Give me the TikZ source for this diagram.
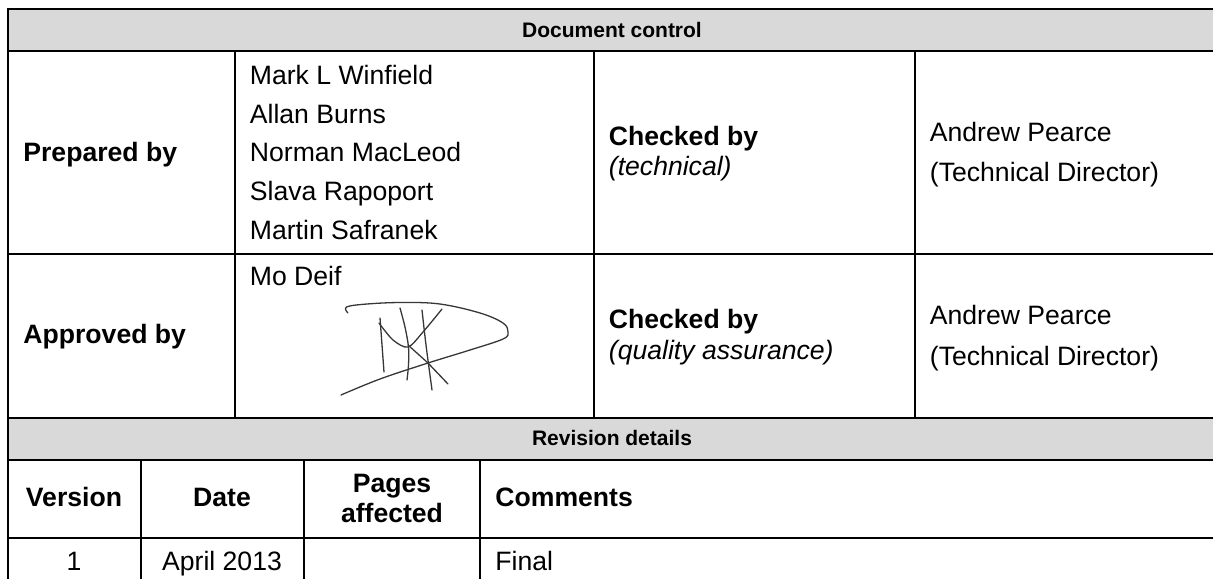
\documentclass[tikz,border=0pt]{standalone}
\usepackage{fontspec}
\setmainfont{Liberation Sans}
\usepackage{tikz}
\definecolor{headgray}{RGB}{217,217,217}
\definecolor{inkgray}{RGB}{55,55,55}
\def\gridwidth{0.9pt}
\def\bodyfont{\fontsize{13.3}{16}\selectfont}
\def\smallhead{\fontsize{10.5}{12}\selectfont\bfseries}
\tikzstyle{grid}=[line width=\gridwidth, draw=black]
\tikzstyle{headrow}=[fill=headgray, line width=\gridwidth, draw=black]
\tikzstyle{cell}=[anchor=base west, inner sep=0pt, font=\bodyfont]
\tikzstyle{boldcell}=[cell, font=\bodyfont\bfseries]
\tikzstyle{italcell}=[cell, font=\bodyfont\itshape]
\tikzstyle{midcell}=[cell, anchor=base]
\tikzstyle{boldmid}=[boldcell, anchor=base]
\tikzstyle{headtext}=[anchor=base, inner sep=0pt, font=\smallhead]
\tikzstyle{ink}=[line width=0.65pt, draw=inkgray, line cap=round, line join=round]

\begin{document}
\begin{tikzpicture}[x=0.5pt, y=-0.5pt]
\useasboundingbox (0,0) rectangle (1213,578);
\clip (0,0) rectangle (1213,578);
% shaded header bands
\draw [headrow] (7.7,8.7) rectangle (1220,51);
\draw [headrow] (7.7,418) rectangle (1220,460);
% rules
\draw [grid] (7.7,254) to (1220,254);
\draw [grid] (7.7,538) to (1220,538);
\draw [grid] (7.7,8.7) to (7.7,590);
\foreach \x in {235,594,915}
  \draw [grid] (\x,51) to (\x,418);
\foreach \x in {141,304,480}
  \draw [grid] (\x,460) to (\x,590);
% document control
\node [headtext] (doc) at (612,37) {Document control};
\node [boldcell] (prep) at (23,161.5) {Prepared by};
\foreach \name [count=\i] in {Mark L Winfield, Allan Burns, Norman MacLeod, Slava Rapoport, Martin Safranek}
  \node [cell] (n\i) at (249.5,{84.3+38.7*(\i-1)}) {\name};
\node [boldcell] (chk1) at (608.5,145.7) {Checked by};
\node [italcell] (tech) at (608.5,175) {(technical)};
\node [cell] (ap1) at (929.5,141) {Andrew Pearce};
\node [cell] (td1) at (929.5,181) {(Technical Director)};
\node [boldcell] (appr) at (23,343.3) {Approved by};
\node [cell] (mo) at (249.5,285) {Mo Deif};
\node [boldcell] (chk2) at (608.5,328.3) {Checked by};
\node [italcell] (qa) at (608.5,359) {(quality assurance)};
\node [cell] (ap2) at (929.5,324.3) {Andrew Pearce};
\node [cell] (td2) at (929.5,365) {(Technical Director)};
% signature
\draw [ink] plot [smooth, tension=0.6] coordinates {(348,313) (346.5,307) (367,304) (402,302.5) (440,304) (480,313) (503,323) (508,332) (503,339) (470,350) (428,363) (380,379) (341,395)};
\draw [ink] plot [smooth] coordinates {(380,318) (382,345) (384,372)};
\draw [ink] plot [smooth] coordinates {(379,323) (393,340) (408,347) (423,332) (442,309)};
\draw [ink] plot [smooth] coordinates {(400,308) (405,327) (408.5,347) (408.5,365) (407,380)};
\draw [ink] plot [smooth] coordinates {(422,310) (426,345) (432,390)};
\draw [ink] (408,345) to (428,363) to (448,384);
% revision details
\node [headtext] (rev) at (612,445) {Revision details};
\node [boldmid] (ver) at (74,506.7) {Version};
\node [boldmid] (date) at (222,506.7) {Date};
\node [boldmid] (pg) at (392,492.3) {Pages};
\node [boldmid] (aff) at (392,522.3) {affected};
\node [boldcell] (com) at (495,506.7) {Comments};
\node [midcell] (v1) at (74,570.5) {1};
\node [midcell] (d1) at (222,570.5) {April 2013};
\node [cell] (f1) at (495,570.5) {Final};
\end{tikzpicture}
\end{document}
